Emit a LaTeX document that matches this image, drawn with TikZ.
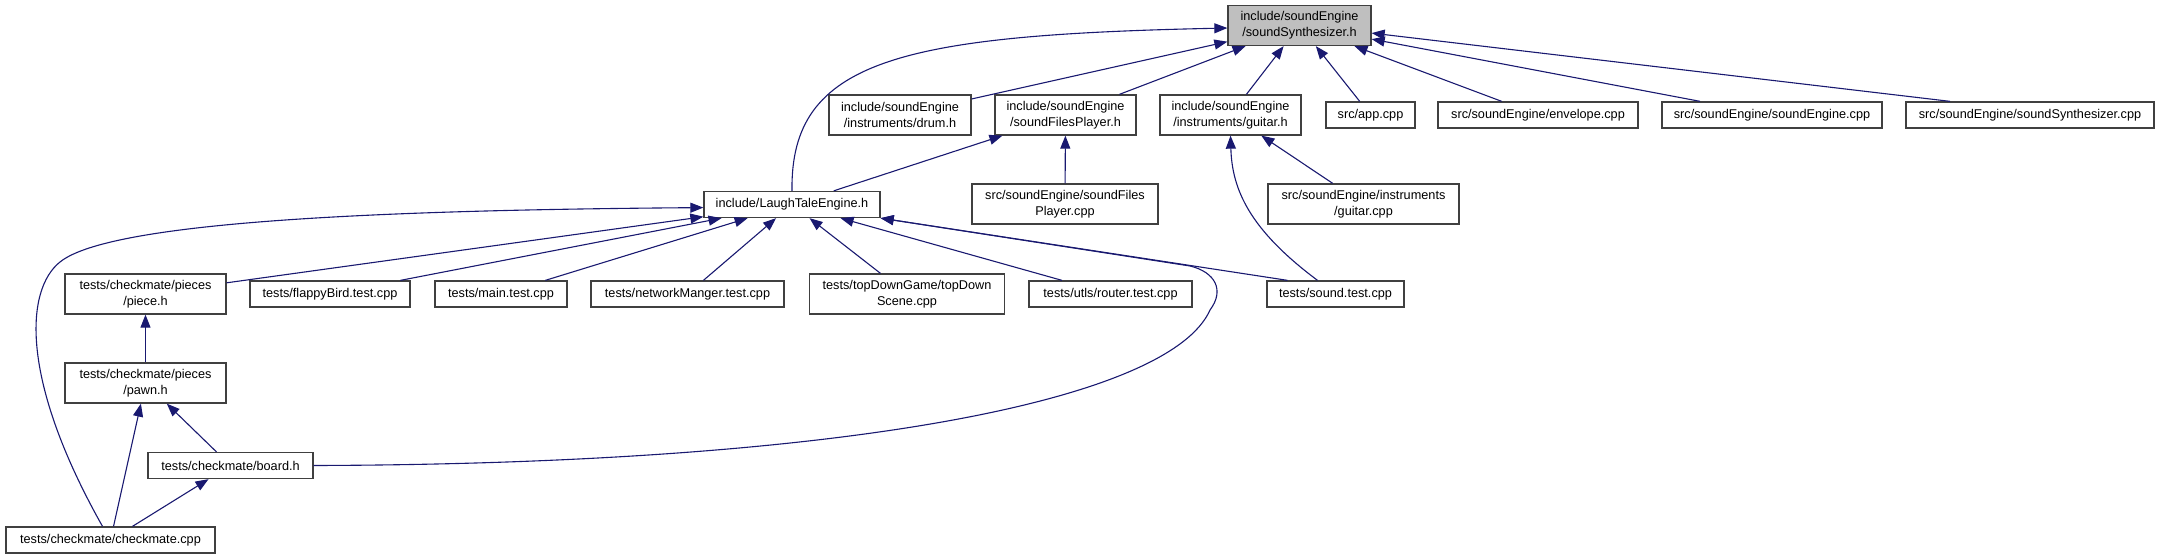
\documentclass[tikz,border=0pt]{standalone}
\usepackage{fontspec}
\setmainfont{Liberation Sans}
\usetikzlibrary{arrows.meta}
\definecolor{edgeblue}{HTML}{191970}
\definecolor{curgray}{HTML}{BFBFBF}
\definecolor{boxline}{HTML}{404040}

\begin{document}
\begin{tikzpicture}[
    x=1pt, y=-1pt,
    font=\fontsize{12.7}{16}\selectfont,
    file/.style={draw=boxline, line width=1.3pt, fill=white, align=center, minimum height=26pt, inner sep=2pt},
    file2/.style={file, minimum height=40pt},
    current/.style={file2, fill=curgray},
    arrow/.style={-{Triangle[length=13pt,width=10pt]}, color=edgeblue, line width=1.1pt}
]
    \useasboundingbox (0,0) rectangle (2160,559);

    \node[current, minimum width=143pt] (synth) at (1299.5,25.5) {include/soundEngine\\/soundSynthesizer.h};
    \node[file2, minimum width=142pt] (drum) at (900,115) {include/soundEngine\\/instruments/drum.h};
    \node[file2, minimum width=141pt] (sfph) at (1065.5,115) {include/soundEngine\\/soundFilesPlayer.h};
    \node[file2, minimum width=141pt] (guitarh) at (1230.5,115) {include/soundEngine\\/instruments/guitar.h};
    \node[file, minimum width=89pt] (app) at (1370.5,115) {src/app.cpp};
    \node[file, minimum width=200pt] (envelope) at (1538,115) {src/soundEngine/envelope.cpp};
    \node[file, minimum width=220pt] (sengine) at (1772,115) {src/soundEngine/soundEngine.cpp};
    \node[file, minimum width=248pt] (ssynth) at (2030,115) {src/soundEngine/soundSynthesizer.cpp};
    \node[file, minimum width=176pt] (lte) at (792,204.5) {include/LaughTaleEngine.h};
    \node[file2, minimum width=186pt] (sfpcpp) at (1065,204) {src/soundEngine/soundFiles\\Player.cpp};
    \node[file2, minimum width=191pt] (guitarcpp) at (1363.5,204) {src/soundEngine/instruments\\/guitar.cpp};
    \node[file2, minimum width=161pt] (piece) at (145.5,294) {tests/checkmate/pieces\\/piece.h};
    \node[file, minimum width=160pt] (flappy) at (330,294) {tests/flappyBird.test.cpp};
    \node[file, minimum width=132pt] (maintest) at (501,294) {tests/main.test.cpp};
    \node[file, minimum width=193pt] (netmgr) at (687.5,294) {tests/networkManger.test.cpp};
    \node[file2, minimum width=195pt] (topdown) at (907,294) {tests/topDownGame/topDown\\Scene.cpp};
    \node[file, minimum width=163pt] (router) at (1110.5,294) {tests/utls/router.test.cpp};
    \node[file, minimum width=137pt] (soundtest) at (1335.5,294) {tests/sound.test.cpp};
    \node[file2, minimum width=161pt] (pawn) at (145.5,383) {tests/checkmate/pieces\\/pawn.h};
    \node[file, minimum width=165pt] (board) at (230.5,465.5) {tests/checkmate/board.h};
    \node[file, minimum width=209pt] (checkmate) at (110.5,540) {tests/checkmate/checkmate.cpp};

    % soundSynthesizer.h
    \draw[arrow] (lte.north) .. controls (790,60) and (900,35) .. (synth.182);
    \draw[arrow] (drum) -- (synth);
    \draw[arrow] (sfph) -- (synth);
    \draw[arrow] (guitarh) -- (synth);
    \draw[arrow] (app) -- (synth);
    \draw[arrow] (envelope) -- (synth);
    \draw[arrow] (sengine) -- (synth);
    \draw[arrow] ([xshift=-80pt]ssynth.north) -- (synth.354);

    \draw[arrow] (lte) -- (sfph);
    \draw[arrow] (sfpcpp) -- (sfph);
    \draw[arrow] (guitarcpp) -- (guitarh);
    \draw[arrow] ([xshift=-18pt]soundtest.north) .. controls (1250,230) and (1232,190) .. (guitarh.south);

    % LaughTaleEngine.h
    \draw[arrow] ([xshift=-8pt]checkmate.north) .. controls (20,380) and (25,290) .. (60,262) .. controls (112,220) and (400,210) .. (lte.182);
    \draw[arrow] (piece) -- (lte);
    \draw[arrow] (flappy) -- (lte);
    \draw[arrow] (maintest) -- (lte);
    \draw[arrow] (netmgr) -- (lte);
    \draw[arrow] (topdown) -- (lte);
    \draw[arrow] (router) -- (lte);
    \draw[arrow] ([xshift=-48pt]soundtest.north) -- (lte.south east);
    \draw[arrow] (board.east) .. controls (850,464) and (1170,400) .. (1210,310) .. controls (1225,290) and (1215,272) .. (1190,266) -- (lte.south east);

    \draw[arrow] (pawn) -- (piece);
    \draw[arrow] (board) -- (pawn);
    \draw[arrow] (checkmate) -- (pawn);
    \draw[arrow] (checkmate) -- (board);
\end{tikzpicture}
\end{document}
